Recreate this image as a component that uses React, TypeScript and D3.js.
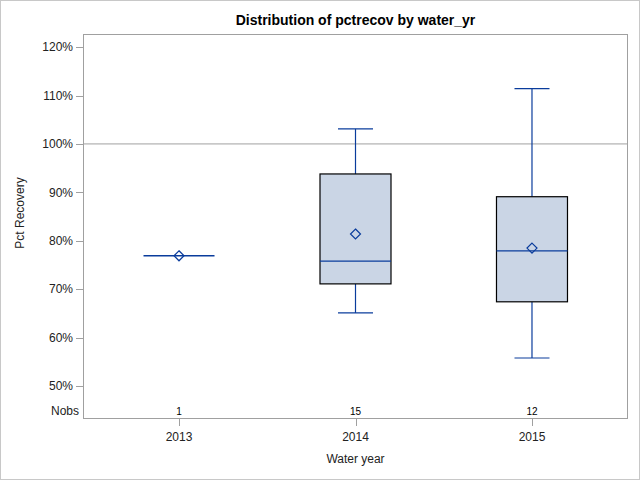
import React from "react";
import * as d3 from "d3";

const categories = ["2013", "2014", "2015"];
const nobs = [1, 15, 12];
const minVals = [76.9, 65.1, 55.8];
const q1Vals = [76.9, 71.1, 67.4];
const medianVals = [76.9, 75.8, 77.9];
const q3Vals = [76.9, 93.8, 89.1];
const maxVals = [76.9, 103.1, 111.4];
const meanVals = [76.9, 81.4, 78.5];
const yTicks = [50, 60, 70, 80, 90, 100, 110, 120];
const refValue = 100;

const W = 640, H = 480;
const L = 83, R = 628, T = 34, B = 419;
const FONT = "'Liberation Sans', Arial, sans-serif";
const BLUE = "#0A3C9C";
const FILL = "#CAD5E5";

export default function App() {
  const x = d3.scalePoint<string>().domain(categories).range([L, R]).padding(0.544);
  const y = d3.scaleLinear().domain([43.2, 122.7]).range([B, T]);
  const boxW = 71;
  const capW = 35;
  const diamond = (cx: number, cy: number) => `M${cx},${cy - 5}L${cx + 5},${cy}L${cx},${cy + 5}L${cx - 5},${cy}Z`;
  return (
    <svg width={W} height={H} style={{ position: "absolute", left: 0, top: 0 }} fontFamily={FONT}>
      <rect x={0.5} y={0.5} width={W - 1} height={H - 1} fill="white" stroke="#C8C8C8" />
      <text x={(L + R) / 2} y={25} textAnchor="middle" fontSize={14} fontWeight="bold" fill="#000">
        Distribution of pctrecov by water_yr
      </text>
      <line x1={L} x2={R} y1={y(refValue)} y2={y(refValue)} stroke="#A0A0A0" strokeWidth={1} />
      {categories.map((c, i) => {
        const cx = x(c)!;
        if (nobs[i] === 1) {
          return (
            <g key={c}>
              <line x1={cx - boxW / 2} x2={cx + boxW / 2} y1={y(medianVals[i])} y2={y(medianVals[i])} stroke={BLUE} strokeWidth={1.5} />
              <path d={diamond(cx, y(meanVals[i]))} fill="none" stroke={BLUE} strokeWidth={1.2} />
            </g>
          );
        }
        return (
          <g key={c}>
            <line x1={cx} x2={cx} y1={y(maxVals[i])} y2={y(q3Vals[i])} stroke={BLUE} strokeWidth={1.2} />
            <line x1={cx} x2={cx} y1={y(q1Vals[i])} y2={y(minVals[i])} stroke={BLUE} strokeWidth={1.2} />
            <line x1={cx - capW / 2} x2={cx + capW / 2} y1={y(maxVals[i])} y2={y(maxVals[i])} stroke={BLUE} strokeWidth={1.2} />
            <line x1={cx - capW / 2} x2={cx + capW / 2} y1={y(minVals[i])} y2={y(minVals[i])} stroke={BLUE} strokeWidth={1.2} />
            <rect x={cx - boxW / 2} y={y(q3Vals[i])} width={boxW} height={y(q1Vals[i]) - y(q3Vals[i])} fill={FILL} stroke="#000" strokeWidth={1.2} />
            <line x1={cx - boxW / 2} x2={cx + boxW / 2} y1={y(medianVals[i])} y2={y(medianVals[i])} stroke={BLUE} strokeWidth={1.2} />
            <path d={diamond(cx, y(meanVals[i]))} fill="none" stroke={BLUE} strokeWidth={1.2} />
          </g>
        );
      })}
      <rect x={L + 0.5} y={T + 0.5} width={R - L - 1} height={B - T - 1} fill="none" stroke="#A0A0A0" />
      {yTicks.map((t) => (
        <g key={t}>
          <line x1={L - 7} x2={L} y1={Math.round(y(t)) + 0.5} y2={Math.round(y(t)) + 0.5} stroke="#A0A0A0" />
          <text x={L - 10} y={y(t)} dy="0.35em" textAnchor="end" fontSize={12} fill="#222">{t}%</text>
        </g>
      ))}
      <text x={79} y={411} dy="0.35em" textAnchor="end" fontSize={12} fill="#222">Nobs</text>
      {categories.map((c, i) => (
        <text key={c} x={x(c)!} y={411} dy="0.35em" textAnchor="middle" fontSize={10} fill="#000">{nobs[i]}</text>
      ))}
      {categories.map((c) => (
        <g key={c}>
          <line x1={Math.round(x(c)!) + 0.5} x2={Math.round(x(c)!) + 0.5} y1={B} y2={B + 7} stroke="#A0A0A0" />
          <text x={x(c)!} y={437} dy="0.35em" textAnchor="middle" fontSize={12} fill="#222">{c}</text>
        </g>
      ))}
      <text x={(L + R) / 2} y={459} dy="0.35em" textAnchor="middle" fontSize={12} fill="#222">Water year</text>
      <text transform={`translate(20,213) rotate(-90)`} dy="0.35em" textAnchor="middle" fontSize={12} fill="#222">Pct Recovery</text>
    </svg>
  );
}
